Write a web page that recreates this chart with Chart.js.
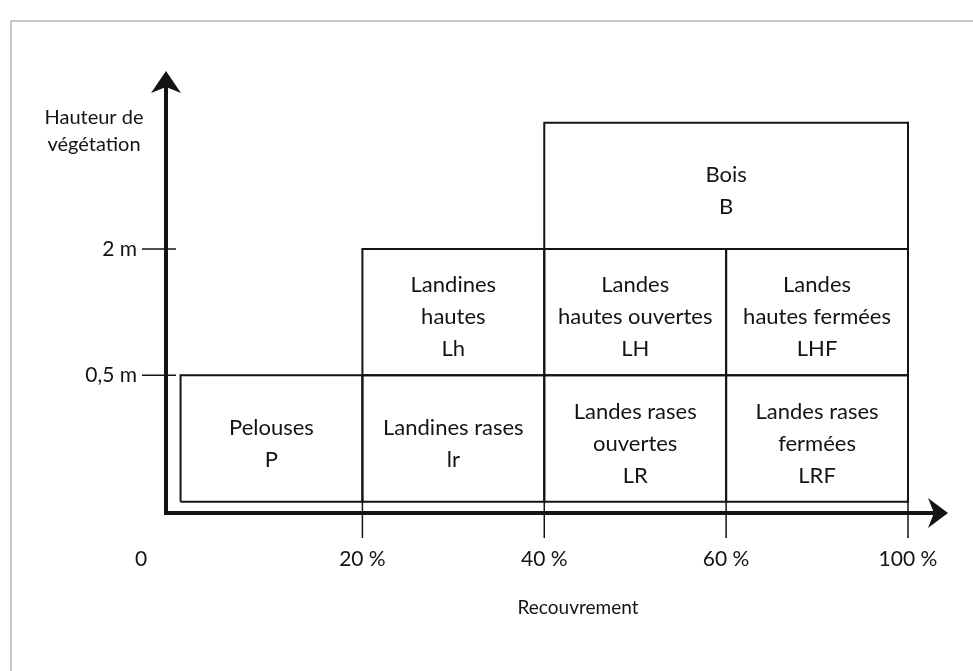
<!DOCTYPE html>
<html lang="fr">
<head>
  <meta charset="UTF-8" />
  <title>Hauteur de végétation / Recouvrement</title>
  <script src="https://cdn.jsdelivr.net/npm/chart.js"></script>
  <style>
    html, body { margin: 0; padding: 0; background: #fff; }
    #wrap { width: 973px; height: 671px; position: relative; }
  </style>
</head>
<body>
  <div id="wrap"><canvas id="vegChart"></canvas></div>

  <script>
    // axis ticks (x positions are class boundaries, not linear %)
    const xTickPos = [0, 1, 2, 3, 4];
    const xTickLabels = ['0', '20 %', '40 %', '60 %', '100 %'];
    const yTickPos = [1, 2];
    const yTickLabels = ['0,5 m', '2 m'];

    // vegetation classes: boundaries in axis units and their text
    const boxNames = [
      ['Pelouses', 'P'],
      ['Landines rases', 'lr'],
      ['Landes rases', 'ouvertes', 'LR'],
      ['Landes rases', 'fermées', 'LRF'],
      ['Landines', 'hautes', 'Lh'],
      ['Landes', 'hautes ouvertes', 'LH'],
      ['Landes', 'hautes fermées', 'LHF'],
      ['Bois', 'B']
    ];
    const boxX0 = [0, 1, 2, 3, 1, 2, 3, 2];
    const boxX1 = [1, 2, 3, 4, 2, 3, 4, 4];
    const boxY0 = [0, 0, 0, 0, 1, 1, 1, 2];
    const boxY1 = [1, 1, 1, 1, 2, 2, 2, 3];

    const FONT = 'Lato, "Open Sans", sans-serif';
    const INK = '#141414';

    const datasets = boxNames.map((n, i) => ({
      label: n.join(' '),
      data: [
        { x: boxX0[i], y: boxY0[i] },
        { x: boxX1[i], y: boxY0[i] },
        { x: boxX1[i], y: boxY1[i] },
        { x: boxX0[i], y: boxY1[i] },
        { x: boxX0[i], y: boxY0[i] }
      ],
      showLine: true,
      borderColor: INK,
      borderWidth: 2,
      pointRadius: 0,
      fill: false,
      tension: 0
    }));

    // axes with arrows, tick marks, labels and box texts
    const diagramPlugin = {
      id: 'diagram',
      afterDatasetsDraw(chart) {
        const ctx = chart.ctx;
        const xs = chart.scales.x, ys = chart.scales.y;
        const ox = chart.chartArea.left, oy = chart.chartArea.bottom;
        const xEnd = chart.chartArea.right, yEnd = chart.chartArea.top;
        ctx.save();

        // page frame (scan border)
        ctx.strokeStyle = '#b5b5b5';
        ctx.lineWidth = 1.5;
        ctx.beginPath();
        ctx.moveTo(11, 671);
        ctx.lineTo(11, 21);
        ctx.lineTo(973, 21);
        ctx.stroke();

        // tick marks
        ctx.strokeStyle = INK;
        ctx.lineWidth = 1.5;
        yTickPos.forEach(v => {
          const py = ys.getPixelForValue(v);
          ctx.beginPath();
          ctx.moveTo(ox - 24, py);
          ctx.lineTo(ox + 10, py);
          ctx.stroke();
        });
        xTickPos.forEach(v => {
          if (v === 0) return;
          const px = xs.getPixelForValue(v);
          ctx.beginPath();
          ctx.moveTo(px, ys.getPixelForValue(0));
          ctx.lineTo(px, oy + 25);
          ctx.stroke();
        });

        // axes
        ctx.lineWidth = 4;
        ctx.lineCap = 'butt';
        ctx.beginPath();
        ctx.moveTo(ox, oy + 2);
        ctx.lineTo(ox, yEnd + 14);
        ctx.moveTo(ox - 2, oy);
        ctx.lineTo(xEnd - 14, oy);
        ctx.stroke();

        ctx.fillStyle = INK;
        ctx.beginPath();
        ctx.moveTo(ox, yEnd);
        ctx.lineTo(ox + 15, yEnd + 22);
        ctx.lineTo(ox, yEnd + 16);
        ctx.lineTo(ox - 15, yEnd + 22);
        ctx.closePath();
        ctx.fill();
        ctx.beginPath();
        ctx.moveTo(xEnd, oy);
        ctx.lineTo(xEnd - 20, oy - 15);
        ctx.lineTo(xEnd - 14, oy);
        ctx.lineTo(xEnd - 20, oy + 15);
        ctx.closePath();
        ctx.fill();

        // tick labels
        ctx.font = '21px ' + FONT;
        ctx.textBaseline = 'middle';
        ctx.textAlign = 'right';
        yTickPos.forEach((v, i) => {
          ctx.fillText(yTickLabels[i], ox - 29, ys.getPixelForValue(v));
        });
        ctx.textAlign = 'center';
        xTickPos.forEach((v, i) => {
          const px = v === 0 ? ox - 25 : xs.getPixelForValue(v);
          ctx.fillText(xTickLabels[i], px, oy + 46);
        });

        // axis titles
        ctx.font = '20px ' + FONT;
        ctx.fillText('Hauteur de', 94, 118);
        ctx.fillText('végétation', 94, 145);
        ctx.font = '19px ' + FONT;
        ctx.fillText('Recouvrement', 578, 608);

        // box texts
        ctx.font = '22px ' + FONT;
        const lh = 32;
        boxNames.forEach((lines, i) => {
          const cx = xs.getPixelForValue((boxX0[i] + boxX1[i]) / 2);
          const cy = ys.getPixelForValue((boxY0[i] + boxY1[i]) / 2) + 5;
          const top = cy - (lines.length - 1) * lh / 2;
          lines.forEach((t, k) => ctx.fillText(t, cx, top + k * lh));
        });
        ctx.restore();
      }
    };

    const vegCtx = document.getElementById('vegChart').getContext('2d');
    const vegChart = new Chart(vegCtx, {
      type: 'scatter',
      data: { datasets: datasets },
      options: {
        responsive: true,
        maintainAspectRatio: false,
        animation: false,
        layout: { padding: { left: 166, right: 25, top: 71, bottom: 158 } },
        scales: {
          x: { type: 'linear', min: -0.08, max: 4.22, display: false },
          y: { type: 'linear', min: -0.09, max: 3.41, display: false }
        },
        plugins: {
          legend: { display: false },
          tooltip: { enabled: false }
        }
      },
      plugins: [diagramPlugin]
    });
  </script>
</body>
</html>
